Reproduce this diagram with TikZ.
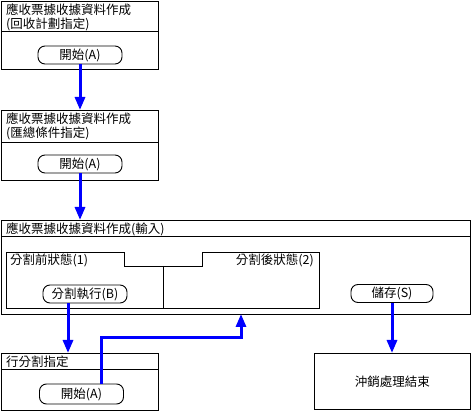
\documentclass[tikz,border=0pt]{standalone}
\usepackage{fontspec}
\setmainfont{Noto Sans CJK TC}
\usetikzlibrary{arrows.meta,positioning}

\tikzset{
  frame/.style={draw=black, line width=0.9pt, inner sep=0pt, anchor=north west},
  btn/.style={draw=black, line width=0.9pt, rounded corners=7pt, minimum width=84pt, minimum height=18pt, inner sep=0pt},
  head/.style={anchor=north west, inner sep=0pt, align=left},
  flow/.style={draw=blue, line width=3pt, -{Triangle[width=10pt,length=13pt]}}
}

\begin{document}
\begin{tikzpicture}[x=1pt, y=-1pt, font=\fontsize{12.5}{14}\selectfont]
    \useasboundingbox (0,0) rectangle (471,411);

    % boxes
    \node[frame, minimum width=157pt, minimum height=68pt] (r1) at (1,1) {};
    \node[frame, minimum width=157pt, minimum height=70pt] (r2) at (1,110) {};
    \node[frame, minimum width=469pt, minimum height=94pt] (r3) at (1,220) {};
    \node[frame, minimum width=157pt, minimum height=57pt] (r4) at (1,353) {};
    \node[frame, minimum width=156pt, minimum height=56pt] (r5) at (314,353) {};

    % headers
    \node[head] (h1) at (6,3.5) {應收票據收據資料作成\\(回收計劃指定)};
    \draw[line width=0.9pt] ([yshift=-30pt]r1.north west) -- ([yshift=-30pt]r1.north east);
    \node[head] (h2) at (6,112.5) {應收票據收據資料作成\\(匯總條件指定)};
    \draw[line width=0.9pt] ([yshift=-32pt]r2.north west) -- ([yshift=-32pt]r2.north east);
    \node[head] (h3) at (6,222.5) {應收票據收據資料作成(輸入)};
    \draw[line width=0.9pt] ([yshift=-16pt]r3.north west) -- ([yshift=-16pt]r3.north east);
    \node[head] (h4) at (6,355.5) {行分割指定};
    \draw[line width=0.9pt] ([yshift=-16pt]r4.north west) -- ([yshift=-16pt]r4.north east);
    \node (t5) at (r5.center) {沖銷處理結束};

    % split states
    \draw[line width=0.9pt] (6,252) -- (124,252) -- (124,266) -- (202,266) -- (202,252)
        -- (319,252) -- (319,308) -- (6,308) -- cycle;
    \draw[line width=0.9pt] (163,266) -- (163,308);
    \node[head] (s1) at (10,254) {分割前狀態(1)};
    \node[anchor=north east, inner sep=0pt] (s2) at (314,254) {分割後狀態(2)};

    % buttons
    \node[btn] (b1) at (80,55) {開始(A)};
    \node[btn] (b2) at (80,164) {開始(A)};
    \node[btn] (b3) at (85,294) {分割執行(B)};
    \node[btn, minimum width=82pt] (b4) at (392,293.5) {儲存(S)};
    \node[btn, minimum height=20pt] (b5) at (81.5,394) {開始(A)};

    \coordinate (in2) at (241,314);

    % flows
    \draw[flow] (b1.south) -- (r2.north -| b1.south);
    \draw[flow] (b2.south) -- (r3.north -| b2.south);
    \draw[flow] ([xshift=-17pt]b3.south) -- ([xshift=-17pt]b3.south |- r4.north);
    \draw[flow] (b4.south) -- (r5.north -| b4.south);
    \draw[flow] ([xshift=19.5pt]b5.north) -- ++(0,-46) -| (in2);
\end{tikzpicture}
\end{document}
